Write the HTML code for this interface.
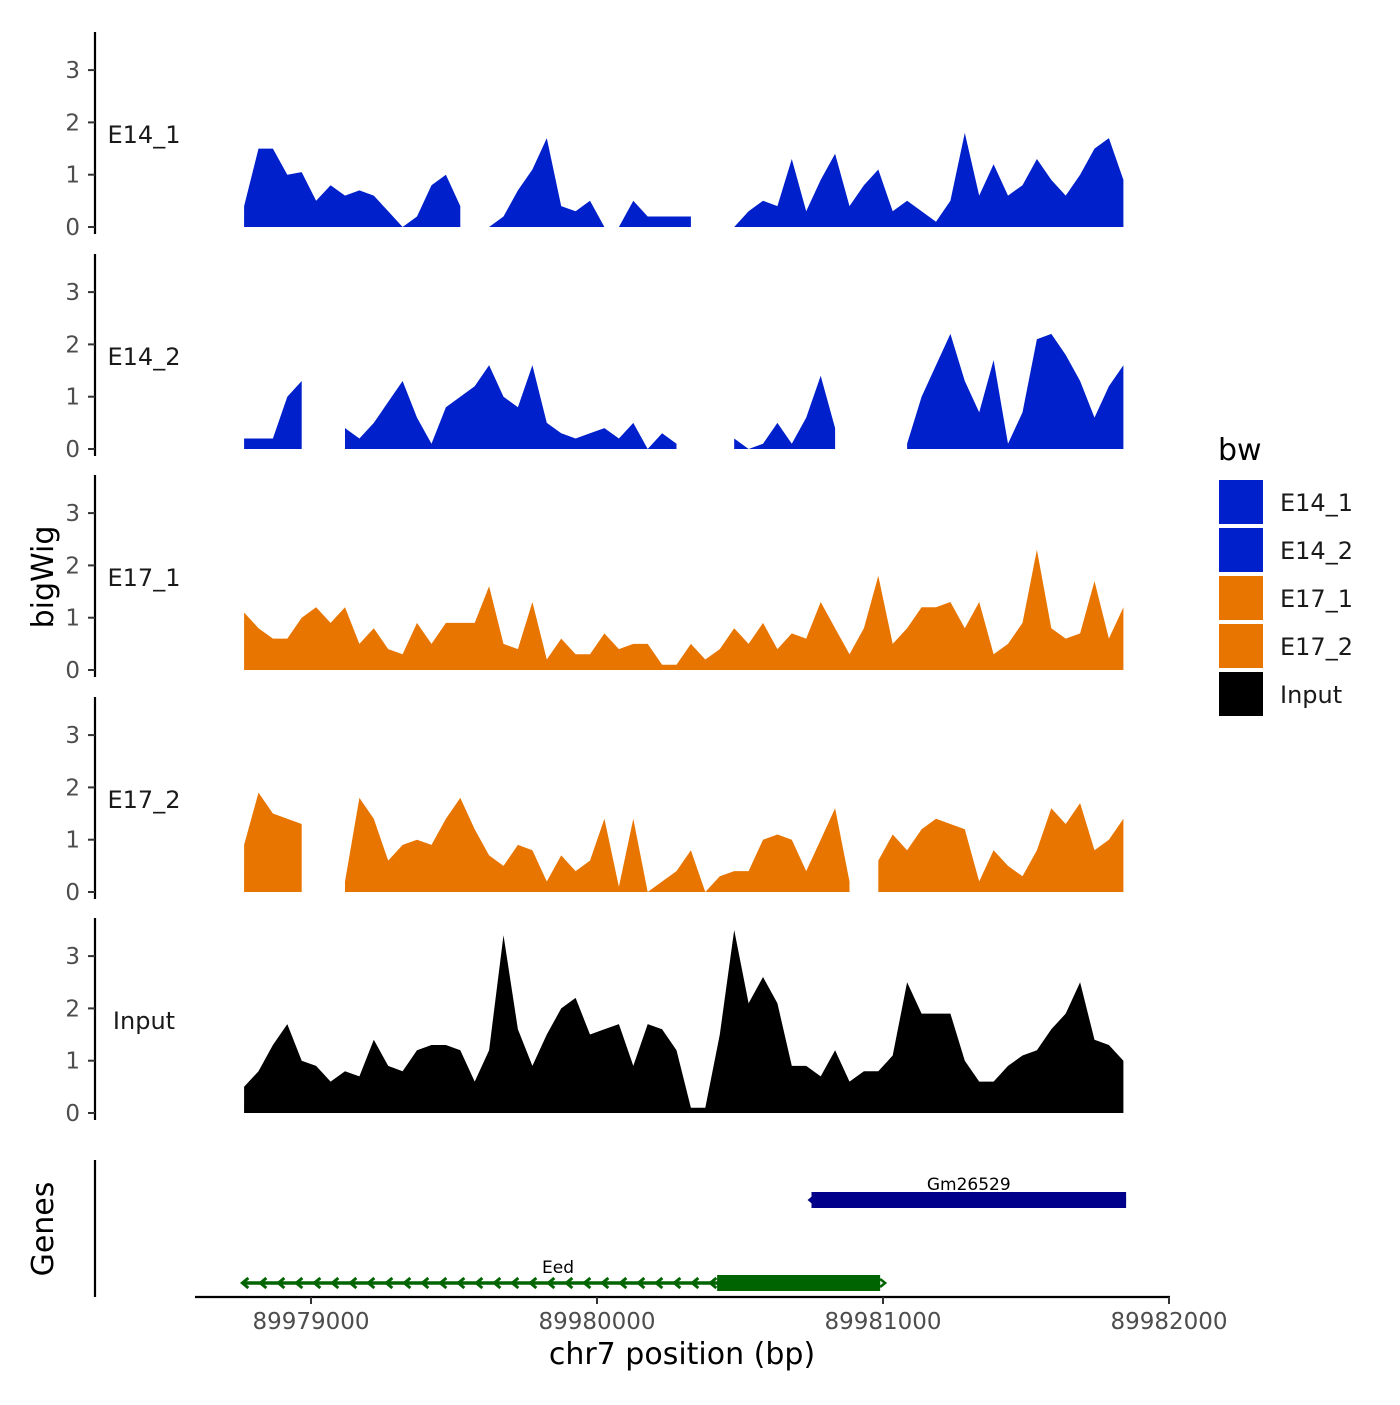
<!DOCTYPE html>
<html><head><meta charset="utf-8">
<style>
html,body{margin:0;padding:0;background:#fff;}
svg text{font-family:"DejaVu Sans","Liberation Sans",sans-serif;}
</style></head>
<body>
<svg id="chart" width="1400" height="1400" viewBox="0 0 1400 1400" xmlns="http://www.w3.org/2000/svg">
<rect width="1400" height="1400" fill="#fff"/>
</svg>
<script>
const bpStart = 89978766;
const bpStep = 50.4;
const trackNames = ["E14_1","E14_2","E17_1","E17_2","Input"];
const yTicks = [0,1,2,3];
const xTicks = [89979000,89980000,89981000,89982000];
const e14_1 = [0.4,1.5,1.5,1.0,1.05,0.5,0.8,0.6,0.7,0.6,0.3,0.0,0.2,0.8,1.0,0.4,null,0.0,0.2,0.7,1.1,1.7,0.4,0.3,0.5,0.0,0.0,0.5,0.2,0.2,0.2,0.2,null,null,0.0,0.3,0.5,0.4,1.3,0.3,0.9,1.4,0.4,0.8,1.1,0.3,0.5,0.3,0.1,0.5,1.8,0.6,1.2,0.6,0.8,1.3,0.9,0.6,1.0,1.5,1.7,0.9];
const e14_2 = [0.2,0.2,0.2,1.0,1.3,null,null,0.4,0.2,0.5,0.9,1.3,0.6,0.1,0.8,1.0,1.2,1.6,1.0,0.8,1.6,0.5,0.3,0.2,0.3,0.4,0.2,0.5,0.0,0.3,0.1,null,null,null,0.2,0.0,0.1,0.5,0.1,0.6,1.4,0.4,null,null,null,null,0.1,1.0,1.6,2.2,1.3,0.7,1.7,0.1,0.7,2.1,2.2,1.8,1.3,0.6,1.2,1.6];
const e17_1 = [1.1,0.8,0.6,0.6,1.0,1.2,0.9,1.2,0.5,0.8,0.4,0.3,0.9,0.5,0.9,0.9,0.9,1.6,0.5,0.4,1.3,0.2,0.6,0.3,0.3,0.7,0.4,0.5,0.5,0.1,0.1,0.5,0.2,0.4,0.8,0.5,0.9,0.4,0.7,0.6,1.3,0.8,0.3,0.8,1.8,0.5,0.8,1.2,1.2,1.3,0.8,1.3,0.3,0.5,0.9,2.3,0.8,0.6,0.7,1.7,0.6,1.2];
const e17_2 = [0.9,1.9,1.5,1.4,1.3,null,null,0.2,1.8,1.4,0.6,0.9,1.0,0.9,1.4,1.8,1.2,0.7,0.5,0.9,0.8,0.2,0.7,0.4,0.6,1.4,0.1,1.4,0.0,0.2,0.4,0.8,0.0,0.3,0.4,0.4,1.0,1.1,1.0,0.4,1.0,1.6,0.2,null,0.6,1.1,0.8,1.2,1.4,1.3,1.2,0.2,0.8,0.5,0.3,0.8,1.6,1.3,1.7,0.8,1.0,1.4];
const input = [0.5,0.8,1.3,1.7,1.0,0.9,0.6,0.8,0.7,1.4,0.9,0.8,1.2,1.3,1.3,1.2,0.6,1.2,3.4,1.6,0.9,1.5,2.0,2.2,1.5,1.6,1.7,0.9,1.7,1.6,1.2,0.1,0.1,1.5,3.5,2.1,2.6,2.1,0.9,0.9,0.7,1.2,0.6,0.8,0.8,1.1,2.5,1.9,1.9,1.9,1.0,0.6,0.6,0.9,1.1,1.2,1.6,1.9,2.5,1.4,1.3,1.0];
const trackValues = [e14_1,e14_2,e17_1,e17_2,input];
const trackColors = ["#0020CC","#0020CC","#E87500","#E87500","#000000"];
const geneNames = ["Gm26529","Eed"];
const geneStart = [89980750,89978760];
const geneEnd = [89981850,89980990];
const geneThickStart = [89980750,89980420];
const geneColors = ["#00008B","#006400"];

const NS = "http://www.w3.org/2000/svg";
const svg = document.getElementById("chart");
function xScale(bp){ return 311 + (bp - 89979000) * 0.286; }
const zeros = [227,449,670,892,1113];
const unit = 52.3;
function mk(tag, attrs, parent){
  const e = document.createElementNS(NS, tag);
  for (const k in attrs) e.setAttribute(k, attrs[k]);
  (parent||svg).appendChild(e);
  return e;
}
function txt(s, attrs, parent){ const t = mk("text", attrs, parent); t.textContent = s; return t; }

trackNames.forEach((name, ti) => {
  const z = zeros[ti];
  const g = mk("g", {});
  
  
  const ax = mk("line", {x1:95,x2:95,y1:z-195,y2:z+7,stroke:"#000","stroke-width":2.2}, g);
  
  
  yTicks.forEach(v => {
    const y = z - v*unit;
    mk("line", {x1:88,x2:95,y1:y,y2:y,stroke:"#333","stroke-width":2}, g);
    const t = txt(String(v), {x:80,y:y+8,"font-size":23,fill:"#4d4d4d","text-anchor":"end"}, g);
    
    
  });
  const lab = txt(name, {x:144,y:z-84,"font-size":24,fill:"#1a1a1a","text-anchor":"middle"}, g);
  
  
  const vals = trackValues[ti];
  let seg = [];
  const segs = [];
  vals.forEach((v, i) => {
    if (v === null) { if (seg.length) segs.push(seg); seg = []; }
    else seg.push([xScale(bpStart + i*bpStep), z - v*unit]);
  });
  if (seg.length) segs.push(seg);
  segs.forEach(s => {
    let d = "M" + s[0][0] + "," + z;
    s.forEach(p => { d += " L" + p[0].toFixed(1) + "," + p[1].toFixed(1); });
    d += " L" + s[s.length-1][0].toFixed(1) + "," + z + " Z";
    const p = mk("path", {d:d, fill:trackColors[ti], stroke:"none"}, g);
    
    
  });
});

const ga = mk("line", {x1:95,x2:95,y1:1160,y2:1297,stroke:"#000","stroke-width":2.2});


const geneY = [1200, 1283];
geneNames.forEach((gn, gi) => {
  const g = mk("g", {});
  
  
  const x0 = xScale(geneStart[gi]), x1 = xScale(geneEnd[gi]), xt = xScale(geneThickStart[gi]);
  const y = geneY[gi], c = geneColors[gi];
  mk("line", {x1:x0,x2:x1,y1:y,y2:y,stroke:c,"stroke-width":3.5}, g);
  mk("rect", {x:xt,y:y-8,width:x1-xt,height:16,fill:c}, g);
  if (gi === 1) {
    for (let x = x0; x < xt; x += 18) {
      mk("polyline", {points:(x+6)+","+(y-5)+" "+x+","+y+" "+(x+6)+","+(y+5),fill:"none",stroke:c,"stroke-width":3}, g);
    }
    mk("polyline", {points:(x1)+","+(y-4)+" "+(x1+5)+","+y+" "+x1+","+(y+4),fill:"none",stroke:c,"stroke-width":2.5}, g);
  } else {
    mk("polyline", {points:(x0+4)+","+(y-5)+" "+(x0-2)+","+y+" "+(x0+4)+","+(y+5),fill:"none",stroke:c,"stroke-width":2.5}, g);
  }
  const t = txt(gn, {x:(gi===0? (x0+x1)/2 : 558), y:y-10, "font-size":17, fill:"#000","text-anchor":"middle"}, g);
  
  
});

const xa = mk("line", {x1:195,x2:1170,y1:1297,y2:1297,stroke:"#000","stroke-width":2.2});


xTicks.forEach(v => {
  const x = xScale(v);
  mk("line", {x1:x,x2:x,y1:1297,y2:1304,stroke:"#333","stroke-width":2});
  const t = txt(String(v), {x:x,y:1329,"font-size":23,fill:"#4d4d4d","text-anchor":"middle"});
  
  
});
const xt = txt("chr7 position (bp)", {x:682,y:1364,"font-size":30,fill:"#000","text-anchor":"middle"});


const yt = txt("bigWig", {x:0,y:0,"font-size":30,fill:"#000","text-anchor":"middle",transform:"translate(53,577) rotate(-90)"});


const gt = txt("Genes", {x:0,y:0,"font-size":30,fill:"#000","text-anchor":"middle",transform:"translate(53,1229) rotate(-90)"});



const lt = txt("bw", {x:1218,y:460,"font-size":30,fill:"#000"});


trackNames.forEach((name, i) => {
  const g = mk("g", {});
  
  
  const y = 480 + i*48;
  mk("rect", {x:1219,y:y,width:44,height:44,fill:trackColors[i]}, g);
  txt(name, {x:1280,y:y+31,"font-size":24,fill:"#1a1a1a"}, g);
});
</script>
</body></html>
